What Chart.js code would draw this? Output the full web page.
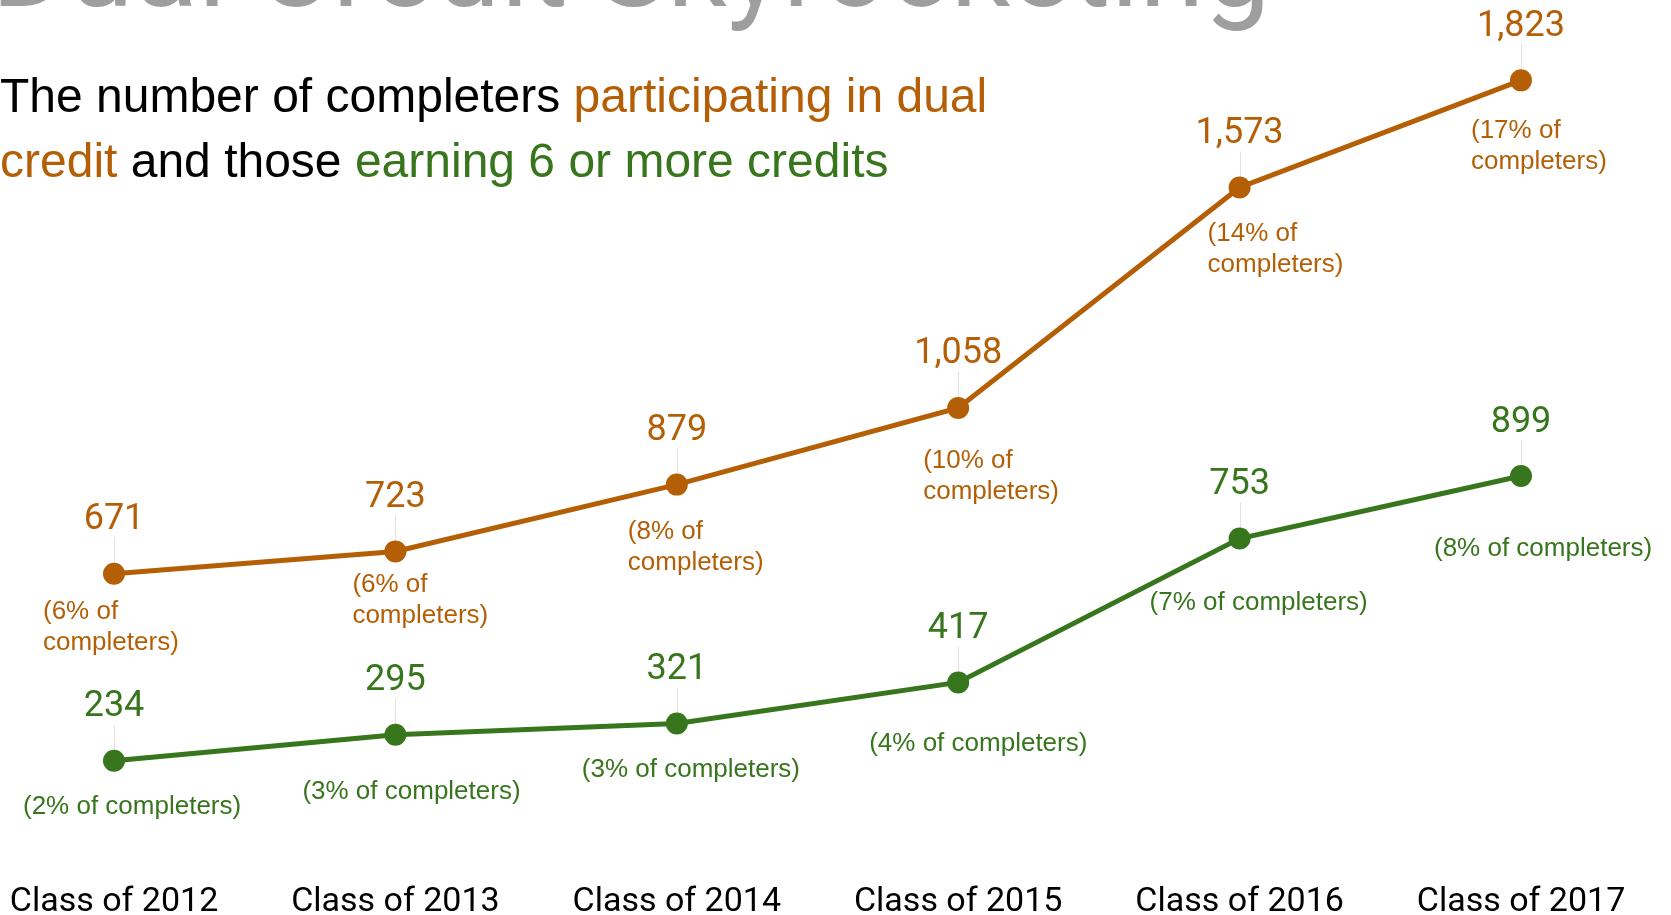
<!DOCTYPE html>
<html>
<head>
<meta charset="utf-8">
<title>Dual Credit Skyrocketing</title>
<script src="https://cdn.jsdelivr.net/npm/chart.js@4.4.1/dist/chart.umd.min.js"></script>
<style>
    html, body { margin: 0; padding: 0; background: #fff; }
    #wrap { position: relative; width: 1671px; height: 915px; overflow: hidden; }
</style>
</head>
<body>
<div id="wrap"><canvas id="chart" width="1671" height="915"></canvas></div>
<script>
// Chart data
const classes = ['Class of 2012', 'Class of 2013', 'Class of 2014', 'Class of 2015', 'Class of 2016', 'Class of 2017'];
const dualCredit = [671, 723, 879, 1058, 1573, 1823];
const sixOrMore = [234, 295, 321, 417, 753, 899];
const dualShare = ['6%', '6%', '8%', '10%', '14%', '17%'];
const sixOrMoreShare = ['2%', '3%', '3%', '4%', '7%', '8%'];

const ORANGE = '#b45f06';
const GREEN = '#38761d';

// where each "(x% of completers)" note sits, relative to its point
const dualNoteOffset = [[-71, 45], [-43, 41], [-49, 54], [-35, 60], [-32, 54], [-50, 58]];
const sixNoteOffset = [[-91, 53], [-93, 64], [-95, 53], [-89, 69], [-90, 71], [-87, 80]];

// Thin grey leaders from the value label down to the point
const leaderPlugin = {
    id: 'leaders',
    beforeDatasetsDraw(chart) {
        const ctx = chart.ctx;
        ctx.save();
        ctx.strokeStyle = '#e2e2e2';
        ctx.lineWidth = 1;
        chart.data.datasets.forEach((ds, i) => {
            chart.getDatasetMeta(i).data.forEach(pt => {
                const x = Math.round(pt.x) + 0.5;
                ctx.beginPath();
                ctx.moveTo(x, pt.y - 36);
                ctx.lineTo(x, pt.y);
                ctx.stroke();
            });
        });
        ctx.restore();
    }
};

// Value labels and percentage notes
const labelPlugin = {
    id: 'pointLabels',
    afterDatasetsDraw(chart) {
        const ctx = chart.ctx;
        ctx.save();
        ctx.textBaseline = 'alphabetic';
        chart.data.datasets.forEach((ds, i) => {
            const isDual = i === 0;
            const offsets = isDual ? dualNoteOffset : sixNoteOffset;
            const shares = isDual ? dualShare : sixOrMoreShare;
            chart.getDatasetMeta(i).data.forEach((pt, j) => {
                ctx.fillStyle = ds.borderColor;
                ctx.font = '36px Roboto';
                ctx.textAlign = 'center';
                ctx.fillText(ds.data[j].toLocaleString('en-US'), pt.x, pt.y - 44.5);

                ctx.font = '26px "Liberation Sans", Arial, sans-serif';
                ctx.textAlign = 'left';
                const nx = pt.x + offsets[j][0];
                const ny = pt.y + offsets[j][1];
                if (isDual) {
                    ctx.fillText('(' + shares[j] + ' of', nx, ny);
                    ctx.fillText('completers)', nx, ny + 31);
                } else {
                    ctx.fillText('(' + shares[j] + ' of completers)', nx, ny);
                }
            });
        });
        ctx.restore();
    }
};

// Title and coloured subtitle
const headerPlugin = {
    id: 'header',
    afterDraw(chart) {
        const ctx = chart.ctx;
        ctx.save();
        ctx.textAlign = 'left';
        ctx.textBaseline = 'alphabetic';
        ctx.font = '118px Roboto';
        ctx.fillStyle = '#9e9e9e';
        ctx.fillText('Dual Credit Skyrocketing', -9, 6);

        ctx.font = '48px "Liberation Sans", Arial, sans-serif';
        const lines = [
            { y: 112, parts: [['The number of completers ', '#000'], ['participating in dual', ORANGE]] },
            { y: 177, parts: [['credit', ORANGE], [' and those ', '#000'], ['earning 6 or more credits', GREEN]] }
        ];
        lines.forEach(line => {
            let x = 0;
            line.parts.forEach(([text, color]) => {
                ctx.fillStyle = color;
                ctx.fillText(text, x, line.y);
                x += ctx.measureText(text).width;
            });
        });
        ctx.restore();
    }
};

function drawChart() {
    const ctx = document.getElementById('chart').getContext('2d');
    new Chart(ctx, {
        type: 'line',
        data: {
            labels: classes,
            datasets: [{
                label: 'Participating in dual credit',
                data: dualCredit,
                borderColor: ORANGE,
                backgroundColor: ORANGE,
                borderWidth: 5,
                pointRadius: 11,
                pointHoverRadius: 11,
                pointBorderWidth: 0,
                tension: 0,
                clip: false
            }, {
                label: 'Earning 6 or more credits',
                data: sixOrMore,
                borderColor: GREEN,
                backgroundColor: GREEN,
                borderWidth: 5,
                pointRadius: 11,
                pointHoverRadius: 11,
                pointBorderWidth: 0,
                tension: 0,
                clip: false
            }]
        },
        options: {
            responsive: false,
            animation: false,
            layout: { padding: { top: 0, left: 114, right: 150, bottom: 0 } },
            plugins: {
                legend: { display: false },
                tooltip: { enabled: false }
            },
            scales: {
                x: {
                    offset: false,
                    grid: { display: false, drawTicks: true, tickLength: 21 },
                    border: { display: false },
                    ticks: {
                        color: '#000',
                        font: { family: 'Roboto', size: 34 },
                        padding: 0,
                        maxRotation: 0,
                        autoSkip: false
                    },
                    afterFit(scale) { scale.height = 54; }
                },
                y: {
                    display: false,
                    min: 0,
                    max: 1985
                }
            }
        },
        plugins: [leaderPlugin, labelPlugin, headerPlugin]
    });
}

Promise.all([
    document.fonts.load('34px Roboto'),
    document.fonts.load('26px "Liberation Sans"')
]).then(drawChart, drawChart);
</script>
</body>
</html>
